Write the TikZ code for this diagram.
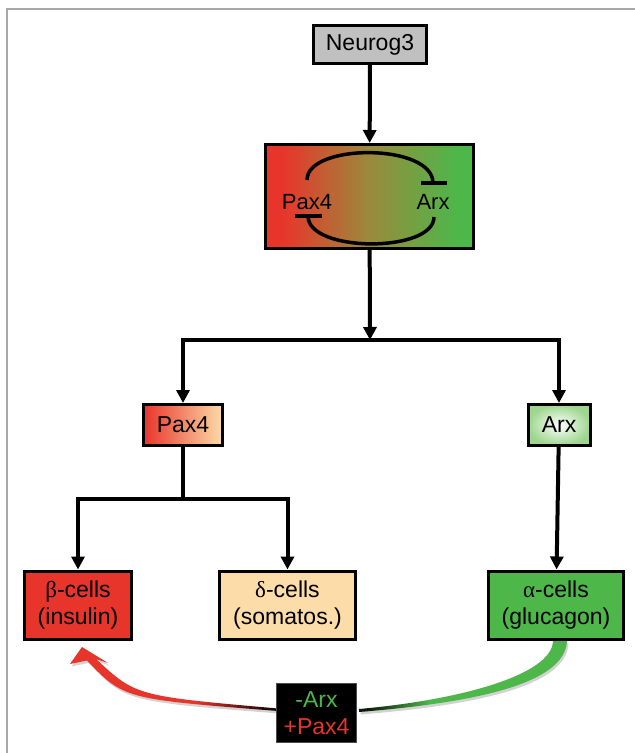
\documentclass[tikz,border=0pt]{standalone}
\usepackage{fontspec}
\setmainfont{Liberation Sans}
\newfontfamily\grk{Liberation Serif}
\usetikzlibrary{arrows.meta}
\definecolor{pRed}{HTML}{E8352B}
\definecolor{pGreen}{HTML}{4DB74A}
\definecolor{pMid}{HTML}{9A8A3C}
\definecolor{pPeach}{HTML}{FCDCA8}
\definecolor{pGray}{HTML}{C0C0C0}
\definecolor{pLightGreen}{HTML}{9ED68F}
\definecolor{pFrame}{HTML}{A8A8A8}
\pgfdeclarehorizontalshading{rgshade}{100bp}{color(0bp)=(pRed); color(29bp)=(pRed); color(50bp)=(pMid); color(71bp)=(pGreen); color(100bp)=(pGreen)}
\pgfdeclarehorizontalshading{redblack}{100bp}{color(0bp)=(pRed); color(55bp)=(pRed); color(72bp)=(black!85!pRed); color(100bp)=(black)}
\pgfdeclarehorizontalshading{blackgreen}{100bp}{color(0bp)=(black); color(27bp)=(black!85!pGreen); color(42bp)=(pGreen); color(100bp)=(pGreen)}
\tikzset{
  box/.style={draw=black, line width=3pt, inner sep=0pt, align=center,
    font=\fontsize{23}{27}\selectfont},
  conn/.style={line width=4pt, -{Triangle[width=13pt,length=13pt]}},
  conn2/.style={line width=4pt, {Triangle[width=13pt,length=13pt]}-{Triangle[width=13pt,length=13pt]}},
  plain/.style={line width=4pt},
  loopline/.style={line width=3.5pt},
  innerlbl/.style={font=\fontsize{22}{26}\selectfont, inner sep=0pt}
}
\begin{document}
\begin{tikzpicture}[x=1pt,y=-1pt]
\useasboundingbox (0,0) rectangle (635,753);
% frame
\draw[pFrame, line width=2pt] (7,753) -- (7,9) -- (635,9);
% nodes
\node[box, fill=pGray, minimum width=113pt, minimum height=38pt] (neuro) at (370,44.5) {Neurog3};
\node[box, shading=rgshade, minimum width=208pt, minimum height=104pt] (big) at (369.5,196.5) {};
\node[box, left color=pRed, right color=pPeach, minimum width=79pt, minimum height=41pt] (pax) at (183,425) {Pax4};
\node[box, inner color=white, outer color=pLightGreen, minimum width=62pt, minimum height=41pt] (arx) at (559,425) {Arx};
\node[box, fill=pRed, minimum width=107pt, minimum height=68pt] (beta) at (78,605) {{\grk β}-cells\\(insulin)};
\node[box, fill=pPeach, minimum width=136pt, minimum height=68pt] (delta) at (287.5,605) {{\grk δ}-cells\\(somatos.)};
\node[box, fill=pGreen, minimum width=135pt, minimum height=68pt] (alpha) at (556,605) {{\grk α}-cells\\(glucagon)};
% inner loop in big box
\node[innerlbl] (ipax) at (307,202) {Pax4};
\node[innerlbl] (iarx) at (433,202) {Arx};
\coordinate (tl) at (307,180);
\coordinate (tr) at (433,183);
\coordinate (br) at (434,217);
\coordinate (bl) at (308,216);
\draw[loopline] (tl) .. controls (307,143) and (433,143) .. (tr);
\draw[loopline] (421,183) -- (447,183);
\draw[loopline] (br) .. controls (434,253) and (308,253) .. (bl);
\draw[loopline] (295,216) -- (322,216);
% connectors
\coordinate (j1) at (370,340);
\coordinate (j2) at (183,499);
\draw[conn] (neuro) -- (big);
\draw[conn] (big) -- (j1);
\draw[conn2] (pax.north) |- (j1) -| (arx.north);
\draw[plain] (pax) -- (j2);
\draw[conn2] (beta.north) |- (j2) -| (delta.north);
\draw[conn] (arx) -- (alpha);
% tapered arrows: shadows
\begin{scope}[shift={(1.5,2.5)}]
\fill[gray!35] (82,647) -- (70,664) -- (87,660.5)
  .. controls (124,699) .. (278,711)
  -- (278,708.5) .. controls (136,696) .. (96,659) -- (108,663) -- cycle;
\fill[gray!35] (553,641) -- (567,641) .. controls (565,685) and (470,703) .. (359,712)
  -- (359,709) .. controls (460,700) and (552,675) .. cycle;
\end{scope}
% red arrow
\shade[shading=redblack] (82,647) -- (70,664) -- (87,660.5)
  .. controls (124,699) .. (278,711)
  -- (278,708.5) .. controls (136,696) .. (96,659) -- (108,663) -- cycle;
% green tail
\shade[shading=blackgreen] (553,641) -- (567,641) .. controls (565,685) and (470,703) .. (359,712)
  -- (359,709) .. controls (460,700) and (552,675) .. (553,641) -- cycle;
% black box
\node[box, draw=black!70, line width=1pt, fill=black, minimum width=80pt, minimum height=59pt] (sw) at (316.5,713)
  {\textcolor{pGreen}{-Arx}\\\textcolor{pRed}{+Pax4}};
\end{tikzpicture}
\end{document}
